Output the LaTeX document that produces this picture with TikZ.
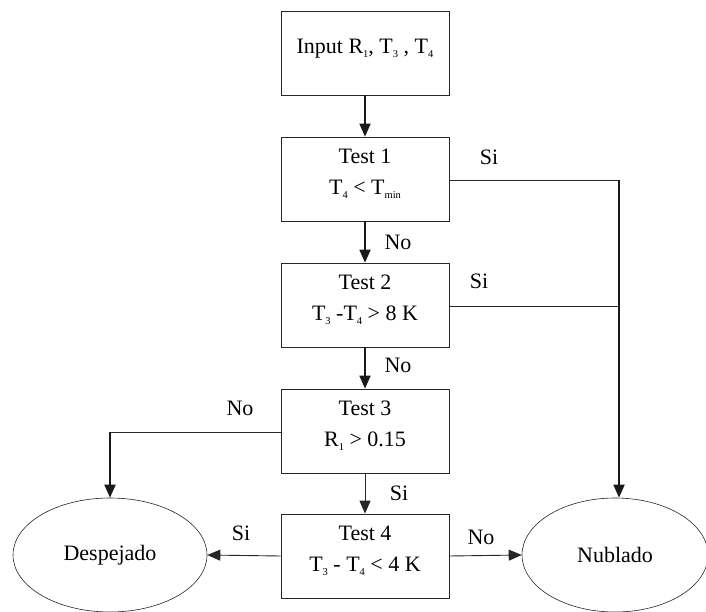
\documentclass[tikz,border=0pt]{standalone}
\usepackage{fontspec}
\setmainfont{Liberation Serif}
\usetikzlibrary{arrows.meta,shapes.geometric}
\newcommand\sbs[1]{\raisebox{-0.45ex}{\fontsize{10.5}{10.5}\selectfont #1}}
\tikzset{
  box/.style={draw=black!85, line width=0.7pt, minimum width=168pt, minimum height=84pt, align=center, inner sep=0pt, font=\fontsize{22}{31}\selectfont},
  oval/.style={draw=black!85, line width=0.6pt, ellipse, inner sep=0pt, font=\fontsize{22}{25}\selectfont},
  lbl/.style={inner sep=0pt, font=\fontsize{22}{25}\selectfont},
  tip/.style={-{Triangle[length=13pt,width=11pt]}},
  thickln/.style={line width=1.8pt, black!90},
  thinln/.style={line width=0.9pt, black!85},
}
\begin{document}
\begin{tikzpicture}[x=1pt,y=-1pt]
\useasboundingbox (0,0) rectangle (706,612);
\node[box] (in) at (365,53) {\raisebox{14pt}{Input R\sbs{1}, T\sbs{3} , T\sbs{4}}};
\node[box] (t1) at (365,179) {Test 1\\T\sbs{4} < T\sbs{min}\\[-16pt]};
\node[box] (t2) at (365,305) {Test 2\\T\sbs{3} -T\sbs{4} > 8 K\\[-16pt]};
\node[box] (t3) at (365,431) {Test 3\\R\sbs{1} > 0.15\\[-16pt]};
\node[box] (t4) at (365,556) {Test 4\\T\sbs{3} - T\sbs{4} < 4 K\\[-16pt]};
\node[oval, minimum width=194pt, minimum height=114pt] (desp) at (110,555) {Despejado};
\node[oval, minimum width=186pt, minimum height=114pt] (nub) at (615,555) {Nublado};
\coordinate (j1) at (619,180);
\coordinate (j2) at (619,306);
\coordinate (k3) at (110,432);
% vertical flow
\draw[thickln,tip] (in.south) -- (t1.north);
\draw[thickln,tip] (t1.south) -- (t2.north);
\draw[thickln,tip] (t2.south) -- (t3.north);
\draw[thinln,tip] (t3.south) -- (t4.north);
% Si branches to Nublado
\draw[thinln] (t1.east |- j1) -- (j1);
\draw[thinln] (t2.east |- j2) -- (j2);
\draw[thickln,tip] (j1) -- (j1 |- nub.north);
% Test 3 No
\draw[thinln] (t3.west |- k3) -- (k3);
\draw[thickln,tip] (k3) -- (desp.north);
% Test 4
\draw[thinln,tip] (t4.west) -- (desp.east);
\draw[thinln,tip] (t4.east) -- (nub.west);
% labels
\node[lbl] (s1) at (489,157) {Si};
\node[lbl] (s2) at (479,281) {Si};
\node[lbl] (n1) at (398,242) {No};
\node[lbl] (n2) at (398,365) {No};
\node[lbl] (s3) at (399,493) {Si};
\node[lbl] (n3) at (240,408) {No};
\node[lbl] (s4) at (241,533) {Si};
\node[lbl] (n4) at (481,537) {No};
\end{tikzpicture}
\end{document}
